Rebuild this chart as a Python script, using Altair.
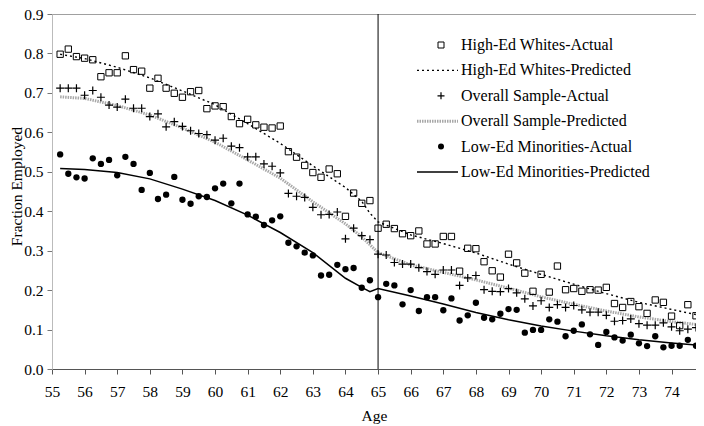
import altair as alt
import pandas as pd

# ---------------- data ----------------
AGES = [55.25 + 0.25 * i for i in range(79)]

HIGH_ED_ACTUAL = [0.798, 0.811, 0.792, 0.788, 0.784, 0.741, 0.751, 0.751, 0.794, 0.759,
                  0.755, 0.712, 0.737, 0.712, 0.699, 0.689, 0.703, 0.706, 0.660, 0.667,
                  0.665, 0.640, 0.622, 0.633, 0.619, 0.613, 0.611, 0.616, 0.551, 0.537,
                  0.516, 0.498, 0.486, 0.507, 0.495, 0.387, 0.446, 0.420, 0.427, 0.357,
                  0.367, 0.356, 0.343, 0.338, 0.350, 0.317, 0.317, 0.336, 0.336, 0.248,
                  0.306, 0.305, 0.272, 0.249, 0.233, 0.291, 0.269, 0.243, 0.197, 0.240,
                  0.195, 0.261, 0.201, 0.204, 0.197, 0.201, 0.200, 0.207, 0.166, 0.156,
                  0.171, 0.158, 0.141, 0.175, 0.169, 0.134, 0.110, 0.163, 0.135]

OVERALL_ACTUAL = [0.712, 0.712, 0.712, 0.694, 0.706, 0.689, 0.669, 0.664, 0.684, 0.661,
                  0.661, 0.640, 0.647, 0.614, 0.627, 0.615, 0.604, 0.597, 0.594, 0.580,
                  0.585, 0.565, 0.561, 0.538, 0.538, 0.520, 0.514, 0.497, 0.445, 0.438,
                  0.435, 0.410, 0.391, 0.392, 0.398, 0.330, 0.357, 0.338, 0.328, 0.291,
                  0.289, 0.270, 0.266, 0.266, 0.257, 0.247, 0.240, 0.251, 0.251, 0.212,
                  0.231, 0.237, 0.201, 0.197, 0.196, 0.204, 0.193, 0.178, 0.160, 0.173,
                  0.156, 0.163, 0.156, 0.161, 0.150, 0.144, 0.144, 0.136, 0.121, 0.123,
                  0.127, 0.115, 0.111, 0.111, 0.117, 0.107, 0.097, 0.101, 0.105]

LOW_ED_ACTUAL = [0.544, 0.495, 0.486, 0.483, 0.534, 0.520, 0.530, 0.491, 0.538, 0.520,
                 0.454, 0.497, 0.431, 0.442, 0.487, 0.429, 0.419, 0.438, 0.436, 0.458,
                 0.470, 0.420, 0.470, 0.392, 0.386, 0.365, 0.377, 0.387, 0.320, 0.311,
                 0.295, 0.288, 0.237, 0.239, 0.264, 0.253, 0.256, 0.206, 0.225, 0.182,
                 0.216, 0.212, 0.164, 0.200, 0.147, 0.182, 0.182, 0.149, 0.179, 0.123,
                 0.136, 0.168, 0.130, 0.126, 0.140, 0.152, 0.150, 0.092, 0.099, 0.099,
                 0.126, 0.120, 0.083, 0.097, 0.113, 0.088, 0.061, 0.094, 0.080, 0.072,
                 0.087, 0.065, 0.058, 0.083, 0.055, 0.059, 0.059, 0.074, 0.059]

PRED_AGES = [55.25, 56, 57, 58, 59, 60, 61, 62, 63, 64, 64.5, 64.75, 65,
             66, 67, 68, 69, 70, 71, 72, 73, 74, 74.75]
HIGH_ED_PRED = [0.798, 0.787, 0.765, 0.738, 0.705, 0.670, 0.622, 0.572, 0.515, 0.460,
                0.425, 0.395, 0.373, 0.340, 0.318, 0.294, 0.266, 0.240, 0.215, 0.191,
                0.169, 0.151, 0.138]
OVERALL_PRED = [0.690, 0.686, 0.668, 0.644, 0.611, 0.575, 0.530, 0.484, 0.424, 0.368,
                0.335, 0.315, 0.295, 0.264, 0.245, 0.226, 0.205, 0.183, 0.164, 0.147,
                0.132, 0.120, 0.113]
LOW_ED_PRED = [0.508, 0.506, 0.498, 0.482, 0.456, 0.427, 0.390, 0.346, 0.295, 0.230,
               0.207, 0.196, 0.204, 0.185, 0.165, 0.143, 0.125, 0.109, 0.096, 0.084,
               0.074, 0.066, 0.061]

LEGEND_LABELS = ["High-Ed Whites-Actual", "High-Ed Whites-Predicted",
                 "Overall Sample-Actual", "Overall Sample-Predicted",
                 "Low-Ed Minorities-Actual", "Low-Ed Minorities-Predicted"]

X_TICKS = [55 + 0.25 * i for i in range(80)]
Y_TICKS = [0.0, 0.1, 0.2, 0.3, 0.4, 0.5, 0.6, 0.7, 0.8, 0.9]

# ---------------- tables ----------------
def actual_df(vals):
    return pd.DataFrame({"age": AGES, "value": vals})

def pred_df(vals):
    return pd.DataFrame({"age": PRED_AGES, "value": vals})

FONT = "Liberation Serif"
W, H = 644, 355

x_enc = alt.X(
    "age:Q",
    scale=alt.Scale(domain=[55, 74.75], nice=False, zero=False),
    axis=alt.Axis(
        values=X_TICKS, format="d",
        labelExpr="datum.value % 1 === 0 ? datum.label : ''",
        labelOverlap=False, labelFlush=False, labelPadding=10,
        tickSize=5, tickColor="#555555", domainColor="#555555",
        title="Age", titleY=39, titleBaseline="top",
    ),
)
y_enc = alt.Y(
    "value:Q",
    scale=alt.Scale(domain=[0, 0.9], nice=False, zero=True),
    axis=alt.Axis(
        values=Y_TICKS, format=".1f", labelPadding=4,
        tickSize=5, tickColor="#777777", domainColor="#bbbbbb",
        title="Fraction Employed", titleX=-28, titleY=172,
        titleBaseline="bottom", titleAlign="center", titleAngle=-90,
    ),
)

PLUS = "M-1,0H1M0,-1V1"

hi_pts = alt.Chart(actual_df(HIGH_ED_ACTUAL)).mark_point(
    shape="square", filled=False, color="black", size=40, strokeWidth=1, opacity=1
).encode(x=x_enc, y=y_enc)

ov_pts = alt.Chart(actual_df(OVERALL_ACTUAL)).mark_point(
    shape=PLUS, filled=False, color="black", size=64, strokeWidth=1.2, opacity=1
).encode(x=x_enc, y=y_enc)

lo_pts = alt.Chart(actual_df(LOW_ED_ACTUAL)).mark_circle(
    color="black", size=40, opacity=1
).encode(x=x_enc, y=y_enc)

hi_line = alt.Chart(pred_df(HIGH_ED_PRED)).mark_line(
    color="black", strokeDash=[2, 3], strokeWidth=1.4
).encode(x=x_enc, y=y_enc)

ov_line = alt.Chart(pred_df(OVERALL_PRED)).mark_line(
    color="#a8a8a8", strokeDash=[1.5, 1], strokeWidth=3
).encode(x=x_enc, y=y_enc)

lo_line = alt.Chart(pred_df(LOW_ED_PRED)).mark_line(
    color="black", strokeWidth=1.5
).encode(x=x_enc, y=y_enc)

vrule = alt.Chart(pd.DataFrame({"age": [65]})).mark_rule(
    color="black", strokeWidth=1
).encode(x=x_enc)

main = alt.layer(ov_line, hi_line, lo_line, vrule, hi_pts, ov_pts, lo_pts)

# ---------------- legend ----------------
leg_df = pd.DataFrame({"label": LEGEND_LABELS})
ly = alt.Y("label:N",
           scale=alt.Scale(type="point", domain=LEGEND_LABELS, range=[31, 158], padding=0),
           axis=None)
leg = alt.Chart(leg_df)

SYM_X = 389
LINE_X0, LINE_X1 = 365, 406
TEXT_X = 409

leg_text = leg.mark_text(align="left", baseline="middle", font=FONT, fontSize=16,
                         color="black").encode(x=alt.value(TEXT_X), y=ly, text="label:N")
leg_sq = leg.transform_filter(alt.datum.label == LEGEND_LABELS[0]).mark_point(
    shape="square", filled=False, color="black", size=36, strokeWidth=1, opacity=1
).encode(x=alt.value(SYM_X), y=ly)
leg_hp = leg.transform_filter(alt.datum.label == LEGEND_LABELS[1]).mark_rule(
    color="black", strokeDash=[2, 3], strokeWidth=1.4
).encode(x=alt.value(LINE_X0), x2=alt.value(LINE_X1), y=ly)
leg_plus = leg.transform_filter(alt.datum.label == LEGEND_LABELS[2]).mark_point(
    shape=PLUS, filled=False, color="black", size=49, strokeWidth=1.2, opacity=1
).encode(x=alt.value(SYM_X), y=ly)
leg_op = leg.transform_filter(alt.datum.label == LEGEND_LABELS[3]).mark_rule(
    color="#a8a8a8", strokeDash=[1.5, 1], strokeWidth=3
).encode(x=alt.value(LINE_X0), x2=alt.value(LINE_X1), y=ly)
leg_dot = leg.transform_filter(alt.datum.label == LEGEND_LABELS[4]).mark_circle(
    color="black", size=36, opacity=1
).encode(x=alt.value(SYM_X), y=ly)
leg_lp = leg.transform_filter(alt.datum.label == LEGEND_LABELS[5]).mark_rule(
    color="black", strokeWidth=1.5
).encode(x=alt.value(LINE_X0), x2=alt.value(LINE_X1), y=ly)

legend = alt.layer(leg_text, leg_sq, leg_hp, leg_plus, leg_op, leg_dot, leg_lp)

chart = alt.layer(main, legend).resolve_scale(y="independent").properties(
    width=W, height=H,
    autosize=alt.AutoSizeParams(type="none"),
    padding={"left": 44, "top": 6, "right": 0, "bottom": 57},
).configure_view(
    stroke="#a0a0a0", strokeWidth=1
).configure_axis(
    labelFont=FONT, titleFont=FONT, labelFontSize=15.5, titleFontSize=15.5,
    labelColor="black", titleColor="black", titleFontWeight="normal", grid=False,
)

chart.save("out.html", embed_options={"renderer": "svg", "actions": False})
